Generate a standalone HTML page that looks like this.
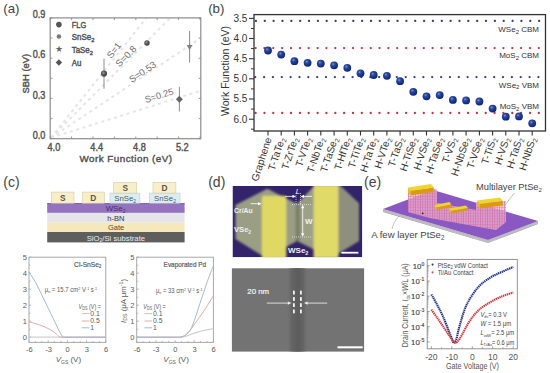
<!DOCTYPE html>
<html><head><meta charset="utf-8"><style>
html,body{margin:0;padding:0;background:#fff;width:550px;height:373px;overflow:hidden}
svg{display:block}
</style></head><body>
<svg width="550" height="373" viewBox="0 0 550 373">
<defs>
<radialGradient id="gball" cx="0.4" cy="0.38" r="0.65"><stop offset="0" stop-color="#9a9a9a"/><stop offset="0.5" stop-color="#555"/><stop offset="1" stop-color="#3c3c3c"/></radialGradient>
<radialGradient id="ball" cx="0.38" cy="0.35" r="0.7">
<stop offset="0" stop-color="#7d98dc"/><stop offset="0.3" stop-color="#2848a6"/><stop offset="1" stop-color="#0c206a"/>
</radialGradient>
<clipPath id="clipsem"><rect x="231.9" y="268.3" width="132.2" height="83.3"/></clipPath>
<clipPath id="clipd"><rect x="232.5" y="186" width="129.8" height="71.3"/></clipPath>
<filter id="bl1" x="-10%" y="-10%" width="120%" height="120%"><feGaussianBlur stdDeviation="0.8"/></filter>
<filter id="bl2" x="-50%" y="-10%" width="200%" height="120%"><feGaussianBlur stdDeviation="1.5"/></filter>
<pattern id="latt" width="2.4" height="2.8" patternUnits="userSpaceOnUse"><rect x="0" width="0.7" height="2.8" fill="#b868a8" opacity="0.75"/><rect y="0" width="2.4" height="0.8" fill="#ee6a90" opacity="0.6"/></pattern>
</defs>
<text x="3.3" y="13.3" font-family="Liberation Sans, sans-serif" font-size="13.3" fill="#444">(a)</text>
<line x1="51.0" y1="137.8" x2="146.4" y2="17.9" stroke="#e4e4e4" stroke-width="1.9" stroke-dasharray="3 3.6"/>
<line x1="51.0" y1="137.8" x2="170.3" y2="17.9" stroke="#e4e4e4" stroke-width="1.9" stroke-dasharray="3 3.6"/>
<line x1="51.0" y1="137.8" x2="200.8" y2="38.0" stroke="#e4e4e4" stroke-width="1.9" stroke-dasharray="3 3.6"/>
<line x1="51.0" y1="137.8" x2="200.8" y2="90.7" stroke="#e4e4e4" stroke-width="1.9" stroke-dasharray="3 3.6"/>
<rect x="50.2" y="17.9" width="150.6" height="120.8" fill="none" stroke="#8c8c8c" stroke-width="1.2"/>
<line x1="50.2" y1="138.7" x2="50.2" y2="136.5" stroke="#8c8c8c" stroke-width="0.9"/>
<line x1="50.2" y1="17.9" x2="50.2" y2="20.099999999999998" stroke="#8c8c8c" stroke-width="0.9"/>
<line x1="71.6" y1="138.7" x2="71.6" y2="136.5" stroke="#8c8c8c" stroke-width="0.9"/>
<line x1="71.6" y1="17.9" x2="71.6" y2="20.099999999999998" stroke="#8c8c8c" stroke-width="0.9"/>
<line x1="93.0" y1="138.7" x2="93.0" y2="136.5" stroke="#8c8c8c" stroke-width="0.9"/>
<line x1="93.0" y1="17.9" x2="93.0" y2="20.099999999999998" stroke="#8c8c8c" stroke-width="0.9"/>
<line x1="114.4" y1="138.7" x2="114.4" y2="136.5" stroke="#8c8c8c" stroke-width="0.9"/>
<line x1="114.4" y1="17.9" x2="114.4" y2="20.099999999999998" stroke="#8c8c8c" stroke-width="0.9"/>
<line x1="135.8" y1="138.7" x2="135.8" y2="136.5" stroke="#8c8c8c" stroke-width="0.9"/>
<line x1="135.8" y1="17.9" x2="135.8" y2="20.099999999999998" stroke="#8c8c8c" stroke-width="0.9"/>
<line x1="157.2" y1="138.7" x2="157.2" y2="136.5" stroke="#8c8c8c" stroke-width="0.9"/>
<line x1="157.2" y1="17.9" x2="157.2" y2="20.099999999999998" stroke="#8c8c8c" stroke-width="0.9"/>
<line x1="178.6" y1="138.7" x2="178.6" y2="136.5" stroke="#8c8c8c" stroke-width="0.9"/>
<line x1="178.6" y1="17.9" x2="178.6" y2="20.099999999999998" stroke="#8c8c8c" stroke-width="0.9"/>
<line x1="200.0" y1="138.7" x2="200.0" y2="136.5" stroke="#8c8c8c" stroke-width="0.9"/>
<line x1="200.0" y1="17.9" x2="200.0" y2="20.099999999999998" stroke="#8c8c8c" stroke-width="0.9"/>
<line x1="50.2" y1="138.7" x2="52.400000000000006" y2="138.7" stroke="#8c8c8c" stroke-width="0.9"/>
<line x1="200.8" y1="138.7" x2="198.60000000000002" y2="138.7" stroke="#8c8c8c" stroke-width="0.9"/>
<line x1="50.2" y1="118.6" x2="52.400000000000006" y2="118.6" stroke="#8c8c8c" stroke-width="0.9"/>
<line x1="200.8" y1="118.6" x2="198.60000000000002" y2="118.6" stroke="#8c8c8c" stroke-width="0.9"/>
<line x1="50.2" y1="98.4" x2="52.400000000000006" y2="98.4" stroke="#8c8c8c" stroke-width="0.9"/>
<line x1="200.8" y1="98.4" x2="198.60000000000002" y2="98.4" stroke="#8c8c8c" stroke-width="0.9"/>
<line x1="50.2" y1="78.3" x2="52.400000000000006" y2="78.3" stroke="#8c8c8c" stroke-width="0.9"/>
<line x1="200.8" y1="78.3" x2="198.60000000000002" y2="78.3" stroke="#8c8c8c" stroke-width="0.9"/>
<line x1="50.2" y1="58.2" x2="52.400000000000006" y2="58.2" stroke="#8c8c8c" stroke-width="0.9"/>
<line x1="200.8" y1="58.2" x2="198.60000000000002" y2="58.2" stroke="#8c8c8c" stroke-width="0.9"/>
<line x1="50.2" y1="38.0" x2="52.400000000000006" y2="38.0" stroke="#8c8c8c" stroke-width="0.9"/>
<line x1="200.8" y1="38.0" x2="198.60000000000002" y2="38.0" stroke="#8c8c8c" stroke-width="0.9"/>
<line x1="50.2" y1="17.9" x2="52.400000000000006" y2="17.9" stroke="#8c8c8c" stroke-width="0.9"/>
<line x1="200.8" y1="17.9" x2="198.60000000000002" y2="17.9" stroke="#8c8c8c" stroke-width="0.9"/>
<text x="45.3" y="138.9" font-family="Liberation Sans, sans-serif" font-size="10.4" fill="#505050" stroke="#505050" stroke-width="0.4" text-anchor="end" textLength="12.6" lengthAdjust="spacingAndGlyphs">0.0</text>
<text x="45.3" y="98.6" font-family="Liberation Sans, sans-serif" font-size="10.4" fill="#505050" stroke="#505050" stroke-width="0.4" text-anchor="end" textLength="12.6" lengthAdjust="spacingAndGlyphs">0.3</text>
<text x="45.3" y="58.4" font-family="Liberation Sans, sans-serif" font-size="10.4" fill="#505050" stroke="#505050" stroke-width="0.4" text-anchor="end" textLength="12.6" lengthAdjust="spacingAndGlyphs">0.6</text>
<text x="45.3" y="18.1" font-family="Liberation Sans, sans-serif" font-size="10.4" fill="#505050" stroke="#505050" stroke-width="0.4" text-anchor="end" textLength="12.6" lengthAdjust="spacingAndGlyphs">0.9</text>
<text x="53.9" y="150.8" font-family="Liberation Sans, sans-serif" font-size="10.2" fill="#505050" stroke="#505050" stroke-width="0.4" text-anchor="middle" textLength="12.8" lengthAdjust="spacingAndGlyphs">4.0</text>
<text x="96.7" y="150.8" font-family="Liberation Sans, sans-serif" font-size="10.2" fill="#505050" stroke="#505050" stroke-width="0.4" text-anchor="middle" textLength="12.8" lengthAdjust="spacingAndGlyphs">4.4</text>
<text x="139.5" y="150.8" font-family="Liberation Sans, sans-serif" font-size="10.2" fill="#505050" stroke="#505050" stroke-width="0.4" text-anchor="middle" textLength="12.8" lengthAdjust="spacingAndGlyphs">4.8</text>
<text x="182.3" y="150.8" font-family="Liberation Sans, sans-serif" font-size="10.2" fill="#505050" stroke="#505050" stroke-width="0.4" text-anchor="middle" textLength="12.8" lengthAdjust="spacingAndGlyphs">5.2</text>
<text x="79.5" y="161.8" font-family="Liberation Sans, sans-serif" font-size="9.8" fill="#505050" stroke="#505050" stroke-width="0.4" textLength="92.5" lengthAdjust="spacing">Work Function (eV)</text>
<text transform="translate(29.2,93.4) rotate(-90)" x="0" y="0" font-family="Liberation Sans, sans-serif" font-size="9.8" fill="#505050" stroke="#505050" stroke-width="0.4" textLength="39.5" lengthAdjust="spacingAndGlyphs">SBH (eV)</text>
<text transform="translate(114,50.3) rotate(-51.5)" x="0" y="3.3" font-family="Liberation Sans, sans-serif" font-size="9.3" fill="#707070" text-anchor="middle" textLength="17" lengthAdjust="spacingAndGlyphs">S=1</text>
<text transform="translate(125.8,56.2) rotate(-45)" x="0" y="3.3" font-family="Liberation Sans, sans-serif" font-size="9.3" fill="#707070" text-anchor="middle" textLength="25.5" lengthAdjust="spacingAndGlyphs">S=0.8</text>
<text transform="translate(142.5,71.8) rotate(-33.7)" x="0" y="3.3" font-family="Liberation Sans, sans-serif" font-size="9.3" fill="#707070" text-anchor="middle" textLength="30.5" lengthAdjust="spacingAndGlyphs">S=0.53</text>
<text transform="translate(159,95.5) rotate(-17.4)" x="0" y="3.3" font-family="Liberation Sans, sans-serif" font-size="9.3" fill="#707070" text-anchor="middle" textLength="29.5" lengthAdjust="spacingAndGlyphs">S=0.25</text>
<line x1="104" y1="58.6" x2="104" y2="88.7" stroke="#8c8c8c" stroke-width="1"/>
<circle cx="104" cy="73.6" r="3.1" fill="url(#gball)"/>
<circle cx="147" cy="43" r="2.7" fill="url(#gball)"/>
<line x1="189.6" y1="30.9" x2="189.6" y2="62.6" stroke="#8c8c8c" stroke-width="1"/>
<polygon points="186.6,45 192.6,45 189.6,50" fill="#808080"/>
<line x1="179.4" y1="86.8" x2="179.4" y2="111.5" stroke="#8c8c8c" stroke-width="1"/>
<polygon points="179.4,95.8 182.9,99.3 179.4,102.8 175.9,99.3" fill="#666"/>
<circle cx="58.9" cy="24.6" r="2.8" fill="#555"/>
<circle cx="58.9" cy="36.5" r="2.3" fill="#7a7a7a"/>
<text x="58.9" y="52.4" font-family="Liberation Sans, sans-serif" font-size="9" fill="#666" text-anchor="middle">&#9733;</text>
<polygon points="58.9,59.3 62.1,62.5 58.9,65.7 55.7,62.5" fill="#555"/>
<text x="71.8" y="28.1" font-family="Liberation Sans, sans-serif" font-size="8.4" fill="#505050" stroke="#505050" stroke-width="0.4" textLength="14.5" lengthAdjust="spacingAndGlyphs">FLG</text>
<text x="71.8" y="40.2" font-family="Liberation Sans, sans-serif" font-size="8.4" fill="#505050" stroke="#505050" stroke-width="0.4" textLength="22.5" lengthAdjust="spacingAndGlyphs">SnSe<tspan font-size="6" dy="1.6">2</tspan></text>
<text x="71.8" y="52.9" font-family="Liberation Sans, sans-serif" font-size="8.4" fill="#505050" stroke="#505050" stroke-width="0.4" textLength="21" lengthAdjust="spacingAndGlyphs">TaSe<tspan font-size="6" dy="1.6">2</tspan></text>
<text x="71.8" y="65.6" font-family="Liberation Sans, sans-serif" font-size="8.4" fill="#505050" stroke="#505050" stroke-width="0.4" textLength="9.6" lengthAdjust="spacingAndGlyphs">Au</text>
<text x="208.2" y="13.3" font-family="Liberation Sans, sans-serif" font-size="13.3" fill="#444">(b)</text>
<circle cx="255.9" cy="20.9" r="1.15" fill="#2c3c82"/>
<circle cx="264.8" cy="20.9" r="1.15" fill="#2c3c82"/>
<circle cx="273.6" cy="20.9" r="1.15" fill="#2c3c82"/>
<circle cx="282.5" cy="20.9" r="1.15" fill="#2c3c82"/>
<circle cx="291.3" cy="20.9" r="1.15" fill="#2c3c82"/>
<circle cx="300.2" cy="20.9" r="1.15" fill="#2c3c82"/>
<circle cx="309.0" cy="20.9" r="1.15" fill="#2c3c82"/>
<circle cx="317.9" cy="20.9" r="1.15" fill="#2c3c82"/>
<circle cx="326.7" cy="20.9" r="1.15" fill="#2c3c82"/>
<circle cx="335.6" cy="20.9" r="1.15" fill="#2c3c82"/>
<circle cx="344.4" cy="20.9" r="1.15" fill="#2c3c82"/>
<circle cx="353.3" cy="20.9" r="1.15" fill="#2c3c82"/>
<circle cx="362.1" cy="20.9" r="1.15" fill="#2c3c82"/>
<circle cx="371.0" cy="20.9" r="1.15" fill="#2c3c82"/>
<circle cx="379.8" cy="20.9" r="1.15" fill="#2c3c82"/>
<circle cx="388.7" cy="20.9" r="1.15" fill="#2c3c82"/>
<circle cx="397.5" cy="20.9" r="1.15" fill="#2c3c82"/>
<circle cx="406.4" cy="20.9" r="1.15" fill="#2c3c82"/>
<circle cx="415.2" cy="20.9" r="1.15" fill="#2c3c82"/>
<circle cx="424.1" cy="20.9" r="1.15" fill="#2c3c82"/>
<circle cx="432.9" cy="20.9" r="1.15" fill="#2c3c82"/>
<circle cx="441.8" cy="20.9" r="1.15" fill="#2c3c82"/>
<circle cx="450.6" cy="20.9" r="1.15" fill="#2c3c82"/>
<circle cx="459.5" cy="20.9" r="1.15" fill="#2c3c82"/>
<circle cx="468.3" cy="20.9" r="1.15" fill="#2c3c82"/>
<circle cx="477.2" cy="20.9" r="1.15" fill="#2c3c82"/>
<circle cx="486.0" cy="20.9" r="1.15" fill="#2c3c82"/>
<circle cx="494.9" cy="20.9" r="1.15" fill="#2c3c82"/>
<circle cx="503.7" cy="20.9" r="1.15" fill="#2c3c82"/>
<circle cx="512.6" cy="20.9" r="1.15" fill="#2c3c82"/>
<circle cx="521.4" cy="20.9" r="1.15" fill="#2c3c82"/>
<circle cx="530.3" cy="20.9" r="1.15" fill="#2c3c82"/>
<circle cx="539.1" cy="20.9" r="1.15" fill="#2c3c82"/>
<circle cx="255.6" cy="48.1" r="1.15" fill="#cc3040"/>
<circle cx="264.4" cy="48.1" r="1.15" fill="#cc3040"/>
<circle cx="273.3" cy="48.1" r="1.15" fill="#cc3040"/>
<circle cx="282.2" cy="48.1" r="1.15" fill="#cc3040"/>
<circle cx="291.0" cy="48.1" r="1.15" fill="#cc3040"/>
<circle cx="299.9" cy="48.1" r="1.15" fill="#cc3040"/>
<circle cx="308.7" cy="48.1" r="1.15" fill="#cc3040"/>
<circle cx="317.6" cy="48.1" r="1.15" fill="#cc3040"/>
<circle cx="326.4" cy="48.1" r="1.15" fill="#cc3040"/>
<circle cx="335.3" cy="48.1" r="1.15" fill="#cc3040"/>
<circle cx="344.1" cy="48.1" r="1.15" fill="#cc3040"/>
<circle cx="353.0" cy="48.1" r="1.15" fill="#cc3040"/>
<circle cx="361.8" cy="48.1" r="1.15" fill="#cc3040"/>
<circle cx="370.7" cy="48.1" r="1.15" fill="#cc3040"/>
<circle cx="379.5" cy="48.1" r="1.15" fill="#cc3040"/>
<circle cx="388.4" cy="48.1" r="1.15" fill="#cc3040"/>
<circle cx="397.2" cy="48.1" r="1.15" fill="#cc3040"/>
<circle cx="406.1" cy="48.1" r="1.15" fill="#cc3040"/>
<circle cx="414.9" cy="48.1" r="1.15" fill="#cc3040"/>
<circle cx="423.8" cy="48.1" r="1.15" fill="#cc3040"/>
<circle cx="432.6" cy="48.1" r="1.15" fill="#cc3040"/>
<circle cx="441.5" cy="48.1" r="1.15" fill="#cc3040"/>
<circle cx="450.3" cy="48.1" r="1.15" fill="#cc3040"/>
<circle cx="459.2" cy="48.1" r="1.15" fill="#cc3040"/>
<circle cx="468.0" cy="48.1" r="1.15" fill="#cc3040"/>
<circle cx="476.9" cy="48.1" r="1.15" fill="#cc3040"/>
<circle cx="485.7" cy="48.1" r="1.15" fill="#cc3040"/>
<circle cx="494.6" cy="48.1" r="1.15" fill="#cc3040"/>
<circle cx="503.4" cy="48.1" r="1.15" fill="#cc3040"/>
<circle cx="512.3" cy="48.1" r="1.15" fill="#cc3040"/>
<circle cx="521.1" cy="48.1" r="1.15" fill="#cc3040"/>
<circle cx="530.0" cy="48.1" r="1.15" fill="#cc3040"/>
<circle cx="538.8" cy="48.1" r="1.15" fill="#cc3040"/>
<circle cx="255.2" cy="77.1" r="1.15" fill="#2c3c82"/>
<circle cx="264.1" cy="77.1" r="1.15" fill="#2c3c82"/>
<circle cx="272.9" cy="77.1" r="1.15" fill="#2c3c82"/>
<circle cx="281.8" cy="77.1" r="1.15" fill="#2c3c82"/>
<circle cx="290.6" cy="77.1" r="1.15" fill="#2c3c82"/>
<circle cx="299.5" cy="77.1" r="1.15" fill="#2c3c82"/>
<circle cx="308.3" cy="77.1" r="1.15" fill="#2c3c82"/>
<circle cx="317.2" cy="77.1" r="1.15" fill="#2c3c82"/>
<circle cx="326.0" cy="77.1" r="1.15" fill="#2c3c82"/>
<circle cx="334.9" cy="77.1" r="1.15" fill="#2c3c82"/>
<circle cx="343.7" cy="77.1" r="1.15" fill="#2c3c82"/>
<circle cx="352.6" cy="77.1" r="1.15" fill="#2c3c82"/>
<circle cx="361.4" cy="77.1" r="1.15" fill="#2c3c82"/>
<circle cx="370.3" cy="77.1" r="1.15" fill="#2c3c82"/>
<circle cx="379.1" cy="77.1" r="1.15" fill="#2c3c82"/>
<circle cx="388.0" cy="77.1" r="1.15" fill="#2c3c82"/>
<circle cx="396.8" cy="77.1" r="1.15" fill="#2c3c82"/>
<circle cx="405.7" cy="77.1" r="1.15" fill="#2c3c82"/>
<circle cx="414.5" cy="77.1" r="1.15" fill="#2c3c82"/>
<circle cx="423.4" cy="77.1" r="1.15" fill="#2c3c82"/>
<circle cx="432.2" cy="77.1" r="1.15" fill="#2c3c82"/>
<circle cx="441.1" cy="77.1" r="1.15" fill="#2c3c82"/>
<circle cx="449.9" cy="77.1" r="1.15" fill="#2c3c82"/>
<circle cx="458.8" cy="77.1" r="1.15" fill="#2c3c82"/>
<circle cx="467.6" cy="77.1" r="1.15" fill="#2c3c82"/>
<circle cx="476.5" cy="77.1" r="1.15" fill="#2c3c82"/>
<circle cx="485.3" cy="77.1" r="1.15" fill="#2c3c82"/>
<circle cx="494.2" cy="77.1" r="1.15" fill="#2c3c82"/>
<circle cx="503.0" cy="77.1" r="1.15" fill="#2c3c82"/>
<circle cx="511.9" cy="77.1" r="1.15" fill="#2c3c82"/>
<circle cx="520.7" cy="77.1" r="1.15" fill="#2c3c82"/>
<circle cx="529.6" cy="77.1" r="1.15" fill="#2c3c82"/>
<circle cx="538.4" cy="77.1" r="1.15" fill="#2c3c82"/>
<circle cx="255.6" cy="113.0" r="1.15" fill="#cc3040"/>
<circle cx="264.4" cy="113.0" r="1.15" fill="#cc3040"/>
<circle cx="273.3" cy="113.0" r="1.15" fill="#cc3040"/>
<circle cx="282.2" cy="113.0" r="1.15" fill="#cc3040"/>
<circle cx="291.0" cy="113.0" r="1.15" fill="#cc3040"/>
<circle cx="299.9" cy="113.0" r="1.15" fill="#cc3040"/>
<circle cx="308.7" cy="113.0" r="1.15" fill="#cc3040"/>
<circle cx="317.6" cy="113.0" r="1.15" fill="#cc3040"/>
<circle cx="326.4" cy="113.0" r="1.15" fill="#cc3040"/>
<circle cx="335.3" cy="113.0" r="1.15" fill="#cc3040"/>
<circle cx="344.1" cy="113.0" r="1.15" fill="#cc3040"/>
<circle cx="353.0" cy="113.0" r="1.15" fill="#cc3040"/>
<circle cx="361.8" cy="113.0" r="1.15" fill="#cc3040"/>
<circle cx="370.7" cy="113.0" r="1.15" fill="#cc3040"/>
<circle cx="379.5" cy="113.0" r="1.15" fill="#cc3040"/>
<circle cx="388.4" cy="113.0" r="1.15" fill="#cc3040"/>
<circle cx="397.2" cy="113.0" r="1.15" fill="#cc3040"/>
<circle cx="406.1" cy="113.0" r="1.15" fill="#cc3040"/>
<circle cx="414.9" cy="113.0" r="1.15" fill="#cc3040"/>
<circle cx="423.8" cy="113.0" r="1.15" fill="#cc3040"/>
<circle cx="432.6" cy="113.0" r="1.15" fill="#cc3040"/>
<circle cx="441.5" cy="113.0" r="1.15" fill="#cc3040"/>
<circle cx="450.3" cy="113.0" r="1.15" fill="#cc3040"/>
<circle cx="459.2" cy="113.0" r="1.15" fill="#cc3040"/>
<circle cx="468.0" cy="113.0" r="1.15" fill="#cc3040"/>
<circle cx="476.9" cy="113.0" r="1.15" fill="#cc3040"/>
<circle cx="485.7" cy="113.0" r="1.15" fill="#cc3040"/>
<circle cx="494.6" cy="113.0" r="1.15" fill="#cc3040"/>
<circle cx="503.4" cy="113.0" r="1.15" fill="#cc3040"/>
<circle cx="512.3" cy="113.0" r="1.15" fill="#cc3040"/>
<circle cx="521.1" cy="113.0" r="1.15" fill="#cc3040"/>
<circle cx="530.0" cy="113.0" r="1.15" fill="#cc3040"/>
<circle cx="538.8" cy="113.0" r="1.15" fill="#cc3040"/>
<rect x="254.0" y="14.6" width="291.5" height="116.4" fill="none" stroke="#333" stroke-width="1.3"/>
<line x1="249.0" y1="18.4" x2="254.0" y2="18.4" stroke="#333" stroke-width="1.1"/>
<text x="247.3" y="21.7" font-family="Liberation Sans, sans-serif" font-size="10" fill="#333" text-anchor="end" textLength="13.9" lengthAdjust="spacingAndGlyphs">3.5</text>
<line x1="251.0" y1="28.5" x2="254.0" y2="28.5" stroke="#333" stroke-width="1"/>
<line x1="249.0" y1="38.5" x2="254.0" y2="38.5" stroke="#333" stroke-width="1.1"/>
<text x="247.3" y="41.8" font-family="Liberation Sans, sans-serif" font-size="10" fill="#333" text-anchor="end" textLength="13.9" lengthAdjust="spacingAndGlyphs">4.0</text>
<line x1="251.0" y1="48.6" x2="254.0" y2="48.6" stroke="#333" stroke-width="1"/>
<line x1="249.0" y1="58.7" x2="254.0" y2="58.7" stroke="#333" stroke-width="1.1"/>
<text x="247.3" y="62.0" font-family="Liberation Sans, sans-serif" font-size="10" fill="#333" text-anchor="end" textLength="13.9" lengthAdjust="spacingAndGlyphs">4.5</text>
<line x1="251.0" y1="68.8" x2="254.0" y2="68.8" stroke="#333" stroke-width="1"/>
<line x1="249.0" y1="78.8" x2="254.0" y2="78.8" stroke="#333" stroke-width="1.1"/>
<text x="247.3" y="82.1" font-family="Liberation Sans, sans-serif" font-size="10" fill="#333" text-anchor="end" textLength="13.9" lengthAdjust="spacingAndGlyphs">5.0</text>
<line x1="251.0" y1="88.9" x2="254.0" y2="88.9" stroke="#333" stroke-width="1"/>
<line x1="249.0" y1="99.0" x2="254.0" y2="99.0" stroke="#333" stroke-width="1.1"/>
<text x="247.3" y="102.3" font-family="Liberation Sans, sans-serif" font-size="10" fill="#333" text-anchor="end" textLength="13.9" lengthAdjust="spacingAndGlyphs">5.5</text>
<line x1="251.0" y1="109.1" x2="254.0" y2="109.1" stroke="#333" stroke-width="1"/>
<line x1="249.0" y1="119.2" x2="254.0" y2="119.2" stroke="#333" stroke-width="1.1"/>
<text x="247.3" y="122.5" font-family="Liberation Sans, sans-serif" font-size="10" fill="#333" text-anchor="end" textLength="13.9" lengthAdjust="spacingAndGlyphs">6.0</text>
<line x1="251.0" y1="129.2" x2="254.0" y2="129.2" stroke="#333" stroke-width="1"/>
<text transform="translate(228.5,71) rotate(-90)" x="0" y="0" font-family="Liberation Sans, sans-serif" font-size="10.3" fill="#333" text-anchor="middle" textLength="90" lengthAdjust="spacingAndGlyphs">Work Function (eV)</text>
<line x1="268.0" y1="131.0" x2="268.0" y2="135.5" stroke="#333" stroke-width="1.1"/>
<text transform="translate(271.8,138.8) rotate(-72)" x="0" y="0" font-family="Liberation Sans, sans-serif" font-size="10.2" fill="#333" text-anchor="end">Graphene</text>
<line x1="281.2" y1="131.0" x2="281.2" y2="135.5" stroke="#333" stroke-width="1.1"/>
<text transform="translate(285.0,138.8) rotate(-72)" x="0" y="0" font-family="Liberation Sans, sans-serif" font-size="10.2" fill="#333" text-anchor="end">T-TaTe<tspan font-size="6.5" dy="2">2</tspan></text>
<line x1="294.4" y1="131.0" x2="294.4" y2="135.5" stroke="#333" stroke-width="1.1"/>
<text transform="translate(298.2,138.8) rotate(-72)" x="0" y="0" font-family="Liberation Sans, sans-serif" font-size="10.2" fill="#333" text-anchor="end">T-ZrTe<tspan font-size="6.5" dy="2">2</tspan></text>
<line x1="307.6" y1="131.0" x2="307.6" y2="135.5" stroke="#333" stroke-width="1.1"/>
<text transform="translate(311.4,138.8) rotate(-72)" x="0" y="0" font-family="Liberation Sans, sans-serif" font-size="10.2" fill="#333" text-anchor="end">T-VTe<tspan font-size="6.5" dy="2">2</tspan></text>
<line x1="320.8" y1="131.0" x2="320.8" y2="135.5" stroke="#333" stroke-width="1.1"/>
<text transform="translate(324.6,138.8) rotate(-72)" x="0" y="0" font-family="Liberation Sans, sans-serif" font-size="10.2" fill="#333" text-anchor="end">T-NbTe<tspan font-size="6.5" dy="2">2</tspan></text>
<line x1="334.1" y1="131.0" x2="334.1" y2="135.5" stroke="#333" stroke-width="1.1"/>
<text transform="translate(337.9,138.8) rotate(-72)" x="0" y="0" font-family="Liberation Sans, sans-serif" font-size="10.2" fill="#333" text-anchor="end">T-TaSe<tspan font-size="6.5" dy="2">2</tspan></text>
<line x1="347.3" y1="131.0" x2="347.3" y2="135.5" stroke="#333" stroke-width="1.1"/>
<text transform="translate(351.1,138.8) rotate(-72)" x="0" y="0" font-family="Liberation Sans, sans-serif" font-size="10.2" fill="#333" text-anchor="end">T-HfTe<tspan font-size="6.5" dy="2">2</tspan></text>
<line x1="360.5" y1="131.0" x2="360.5" y2="135.5" stroke="#333" stroke-width="1.1"/>
<text transform="translate(364.3,138.8) rotate(-72)" x="0" y="0" font-family="Liberation Sans, sans-serif" font-size="10.2" fill="#333" text-anchor="end">T-TiTe<tspan font-size="6.5" dy="2">2</tspan></text>
<line x1="373.7" y1="131.0" x2="373.7" y2="135.5" stroke="#333" stroke-width="1.1"/>
<text transform="translate(377.5,138.8) rotate(-72)" x="0" y="0" font-family="Liberation Sans, sans-serif" font-size="10.2" fill="#333" text-anchor="end">H-TaTe<tspan font-size="6.5" dy="2">2</tspan></text>
<line x1="386.9" y1="131.0" x2="386.9" y2="135.5" stroke="#333" stroke-width="1.1"/>
<text transform="translate(390.7,138.8) rotate(-72)" x="0" y="0" font-family="Liberation Sans, sans-serif" font-size="10.2" fill="#333" text-anchor="end">H-VTe<tspan font-size="6.5" dy="2">2</tspan></text>
<line x1="400.1" y1="131.0" x2="400.1" y2="135.5" stroke="#333" stroke-width="1.1"/>
<text transform="translate(403.9,138.8) rotate(-72)" x="0" y="0" font-family="Liberation Sans, sans-serif" font-size="10.2" fill="#333" text-anchor="end">T-TaS<tspan font-size="6.5" dy="2">2</tspan></text>
<line x1="413.3" y1="131.0" x2="413.3" y2="135.5" stroke="#333" stroke-width="1.1"/>
<text transform="translate(417.1,138.8) rotate(-72)" x="0" y="0" font-family="Liberation Sans, sans-serif" font-size="10.2" fill="#333" text-anchor="end">H-TiSe<tspan font-size="6.5" dy="2">2</tspan></text>
<line x1="426.5" y1="131.0" x2="426.5" y2="135.5" stroke="#333" stroke-width="1.1"/>
<text transform="translate(430.3,138.8) rotate(-72)" x="0" y="0" font-family="Liberation Sans, sans-serif" font-size="10.2" fill="#333" text-anchor="end">H-VSe<tspan font-size="6.5" dy="2">2</tspan></text>
<line x1="439.7" y1="131.0" x2="439.7" y2="135.5" stroke="#333" stroke-width="1.1"/>
<text transform="translate(443.5,138.8) rotate(-72)" x="0" y="0" font-family="Liberation Sans, sans-serif" font-size="10.2" fill="#333" text-anchor="end">H-TaSe<tspan font-size="6.5" dy="2">2</tspan></text>
<line x1="452.9" y1="131.0" x2="452.9" y2="135.5" stroke="#333" stroke-width="1.1"/>
<text transform="translate(456.7,138.8) rotate(-72)" x="0" y="0" font-family="Liberation Sans, sans-serif" font-size="10.2" fill="#333" text-anchor="end">T-VS<tspan font-size="6.5" dy="2">2</tspan></text>
<line x1="466.1" y1="131.0" x2="466.1" y2="135.5" stroke="#333" stroke-width="1.1"/>
<text transform="translate(469.9,138.8) rotate(-72)" x="0" y="0" font-family="Liberation Sans, sans-serif" font-size="10.2" fill="#333" text-anchor="end">H-NbSe<tspan font-size="6.5" dy="2">2</tspan></text>
<line x1="479.4" y1="131.0" x2="479.4" y2="135.5" stroke="#333" stroke-width="1.1"/>
<text transform="translate(483.2,138.8) rotate(-72)" x="0" y="0" font-family="Liberation Sans, sans-serif" font-size="10.2" fill="#333" text-anchor="end">T-VSe<tspan font-size="6.5" dy="2">2</tspan></text>
<line x1="492.6" y1="131.0" x2="492.6" y2="135.5" stroke="#333" stroke-width="1.1"/>
<text transform="translate(496.4,138.8) rotate(-72)" x="0" y="0" font-family="Liberation Sans, sans-serif" font-size="10.2" fill="#333" text-anchor="end">T-TiS<tspan font-size="6.5" dy="2">2</tspan></text>
<line x1="505.8" y1="131.0" x2="505.8" y2="135.5" stroke="#333" stroke-width="1.1"/>
<text transform="translate(509.6,138.8) rotate(-72)" x="0" y="0" font-family="Liberation Sans, sans-serif" font-size="10.2" fill="#333" text-anchor="end">H-VS<tspan font-size="6.5" dy="2">2</tspan></text>
<line x1="519.0" y1="131.0" x2="519.0" y2="135.5" stroke="#333" stroke-width="1.1"/>
<text transform="translate(522.8,138.8) rotate(-72)" x="0" y="0" font-family="Liberation Sans, sans-serif" font-size="10.2" fill="#333" text-anchor="end">H-TaS<tspan font-size="6.5" dy="2">2</tspan></text>
<line x1="532.2" y1="131.0" x2="532.2" y2="135.5" stroke="#333" stroke-width="1.1"/>
<text transform="translate(536.0,138.8) rotate(-72)" x="0" y="0" font-family="Liberation Sans, sans-serif" font-size="10.2" fill="#333" text-anchor="end">H-NbS<tspan font-size="6.5" dy="2">2</tspan></text>
<text x="539" y="32" font-family="Liberation Sans, sans-serif" font-size="8" fill="#333" text-anchor="end">WSe<tspan font-size="6" dy="1.5">2</tspan><tspan dy="-1.5"> CBM</tspan></text>
<text x="539" y="58.4" font-family="Liberation Sans, sans-serif" font-size="8" fill="#333" text-anchor="end">MoS<tspan font-size="6" dy="1.5">2</tspan><tspan dy="-1.5"> CBM</tspan></text>
<text x="539" y="87.5" font-family="Liberation Sans, sans-serif" font-size="8" fill="#333" text-anchor="end">WSe<tspan font-size="6" dy="1.5">2</tspan><tspan dy="-1.5"> VBM</tspan></text>
<text x="539" y="109" font-family="Liberation Sans, sans-serif" font-size="8" fill="#333" text-anchor="end">MoS<tspan font-size="6" dy="1.5">2</tspan><tspan dy="-1.5"> VBM</tspan></text>
<circle cx="268.0" cy="50.5" r="3.9" fill="url(#ball)"/>
<circle cx="281.2" cy="54.6" r="3.9" fill="url(#ball)"/>
<circle cx="294.4" cy="61.2" r="3.9" fill="url(#ball)"/>
<circle cx="307.6" cy="62.8" r="3.9" fill="url(#ball)"/>
<circle cx="320.8" cy="63.6" r="3.9" fill="url(#ball)"/>
<circle cx="334.1" cy="65.3" r="3.9" fill="url(#ball)"/>
<circle cx="347.3" cy="67.8" r="3.9" fill="url(#ball)"/>
<circle cx="360.5" cy="73.3" r="3.9" fill="url(#ball)"/>
<circle cx="373.7" cy="75.0" r="3.9" fill="url(#ball)"/>
<circle cx="386.9" cy="75.8" r="3.9" fill="url(#ball)"/>
<circle cx="400.1" cy="81.2" r="3.9" fill="url(#ball)"/>
<circle cx="413.3" cy="91.8" r="3.9" fill="url(#ball)"/>
<circle cx="426.5" cy="96.3" r="3.9" fill="url(#ball)"/>
<circle cx="439.7" cy="95.1" r="3.9" fill="url(#ball)"/>
<circle cx="452.9" cy="99.9" r="3.9" fill="url(#ball)"/>
<circle cx="466.1" cy="100.4" r="3.9" fill="url(#ball)"/>
<circle cx="479.4" cy="101.5" r="3.9" fill="url(#ball)"/>
<circle cx="492.6" cy="108.6" r="3.9" fill="url(#ball)"/>
<circle cx="505.8" cy="116.7" r="3.9" fill="url(#ball)"/>
<circle cx="519.0" cy="116.4" r="3.9" fill="url(#ball)"/>
<circle cx="532.2" cy="123.3" r="3.9" fill="url(#ball)"/>
<text x="3.3" y="186.7" font-family="Liberation Sans, sans-serif" font-size="14" fill="#444">(c)</text>
<rect x="47.2" y="203.2" width="137.4" height="9.7" fill="#9572be"/>
<rect x="47.2" y="203.2" width="137.4" height="0.8" fill="#7d5aa8"/>
<rect x="47.2" y="212.9" width="137.4" height="9.8" fill="#e6e5ea"/>
<rect x="47.2" y="222.7" width="137.4" height="9.3" fill="#f6e8bd"/>
<rect x="47.2" y="232.0" width="137.4" height="10.4" fill="#5e5e5e"/>
<rect x="51.5" y="192.1" width="22.5" height="11.1" fill="#f8eec8" stroke="#d4cca8" stroke-width="0.6"/>
<rect x="82.2" y="192.1" width="22.3" height="11.1" fill="#f8eec8" stroke="#d4cca8" stroke-width="0.6"/>
<rect x="110" y="193.1" width="29.9" height="10.1" fill="#dcedf1" stroke="#b8ccd2" stroke-width="0.6"/>
<rect x="113.7" y="182.4" width="23.0" height="10.7" fill="#f8eec8" stroke="#d4cca8" stroke-width="0.6"/>
<text x="125.2" y="201.3" font-family="Liberation Sans, sans-serif" font-size="7.8" fill="#4e5a62" text-anchor="middle">SnSe<tspan font-size="5" dy="1.5">2</tspan></text>
<text x="125.2" y="190.8" font-family="Liberation Sans, sans-serif" font-size="8.3" font-weight="bold" fill="#555" text-anchor="middle">S</text>
<rect x="149.4" y="193.1" width="30.6" height="10.1" fill="#dcedf1" stroke="#b8ccd2" stroke-width="0.6"/>
<rect x="153" y="182.4" width="22.9" height="10.7" fill="#f8eec8" stroke="#d4cca8" stroke-width="0.6"/>
<text x="165.0" y="201.3" font-family="Liberation Sans, sans-serif" font-size="7.8" fill="#4e5a62" text-anchor="middle">SnSe<tspan font-size="5" dy="1.5">2</tspan></text>
<text x="164.4" y="190.8" font-family="Liberation Sans, sans-serif" font-size="8.3" font-weight="bold" fill="#555" text-anchor="middle">D</text>
<text x="62.7" y="200.8" font-family="Liberation Sans, sans-serif" font-size="8.3" font-weight="bold" fill="#555" text-anchor="middle">S</text>
<text x="93.3" y="200.8" font-family="Liberation Sans, sans-serif" font-size="8.3" font-weight="bold" fill="#555" text-anchor="middle">D</text>
<text x="115.6" y="211" font-family="Liberation Sans, sans-serif" font-size="7.9" fill="#4a2a72" text-anchor="middle">WSe<tspan font-size="5" dy="1.5">2</tspan></text>
<text x="115.8" y="221.1" font-family="Liberation Sans, sans-serif" font-size="7.5" fill="#383838" text-anchor="middle">h-BN</text>
<text x="116.1" y="230.2" font-family="Liberation Sans, sans-serif" font-size="7.5" fill="#54482a" text-anchor="middle">Gate</text>
<text x="115.9" y="240.5" font-family="Liberation Sans, sans-serif" font-size="7.7" fill="#ececec" text-anchor="middle">SiO<tspan font-size="5" dy="1.5">2</tspan><tspan dy="-1.5">/Si substrate</tspan></text>
<rect x="29.0" y="257.2" width="76.8" height="85.2" fill="none" stroke="#a8a8a8" stroke-width="1"/>
<line x1="29.0" y1="337.2" x2="31.2" y2="337.2" stroke="#a8a8a8" stroke-width="0.9"/>
<text x="26.8" y="339.9" font-family="Liberation Sans, sans-serif" font-size="7.5" fill="#5a5a5a" text-anchor="end">0</text>
<line x1="29.0" y1="329.2" x2="30.5" y2="329.2" stroke="#a8a8a8" stroke-width="0.7"/>
<line x1="29.0" y1="321.2" x2="31.2" y2="321.2" stroke="#a8a8a8" stroke-width="0.9"/>
<text x="26.8" y="323.9" font-family="Liberation Sans, sans-serif" font-size="7.5" fill="#5a5a5a" text-anchor="end">1</text>
<line x1="29.0" y1="313.2" x2="30.5" y2="313.2" stroke="#a8a8a8" stroke-width="0.7"/>
<line x1="29.0" y1="305.2" x2="31.2" y2="305.2" stroke="#a8a8a8" stroke-width="0.9"/>
<text x="26.8" y="307.9" font-family="Liberation Sans, sans-serif" font-size="7.5" fill="#5a5a5a" text-anchor="end">2</text>
<line x1="29.0" y1="297.2" x2="30.5" y2="297.2" stroke="#a8a8a8" stroke-width="0.7"/>
<line x1="29.0" y1="289.2" x2="31.2" y2="289.2" stroke="#a8a8a8" stroke-width="0.9"/>
<text x="26.8" y="291.9" font-family="Liberation Sans, sans-serif" font-size="7.5" fill="#5a5a5a" text-anchor="end">3</text>
<line x1="29.0" y1="281.2" x2="30.5" y2="281.2" stroke="#a8a8a8" stroke-width="0.7"/>
<line x1="29.0" y1="273.2" x2="31.2" y2="273.2" stroke="#a8a8a8" stroke-width="0.9"/>
<text x="26.8" y="275.9" font-family="Liberation Sans, sans-serif" font-size="7.5" fill="#5a5a5a" text-anchor="end">4</text>
<line x1="29.0" y1="265.2" x2="30.5" y2="265.2" stroke="#a8a8a8" stroke-width="0.7"/>
<line x1="29.0" y1="257.2" x2="31.2" y2="257.2" stroke="#a8a8a8" stroke-width="0.9"/>
<text x="26.8" y="259.9" font-family="Liberation Sans, sans-serif" font-size="7.5" fill="#5a5a5a" text-anchor="end">5</text>
<line x1="29.0" y1="342.4" x2="29.0" y2="340.2" stroke="#a8a8a8" stroke-width="0.8"/>
<line x1="35.4" y1="342.4" x2="35.4" y2="341.0" stroke="#a8a8a8" stroke-width="0.8"/>
<line x1="41.8" y1="342.4" x2="41.8" y2="341.0" stroke="#a8a8a8" stroke-width="0.8"/>
<line x1="48.2" y1="342.4" x2="48.2" y2="340.2" stroke="#a8a8a8" stroke-width="0.8"/>
<line x1="54.6" y1="342.4" x2="54.6" y2="341.0" stroke="#a8a8a8" stroke-width="0.8"/>
<line x1="61.0" y1="342.4" x2="61.0" y2="341.0" stroke="#a8a8a8" stroke-width="0.8"/>
<line x1="67.4" y1="342.4" x2="67.4" y2="340.2" stroke="#a8a8a8" stroke-width="0.8"/>
<line x1="73.8" y1="342.4" x2="73.8" y2="341.0" stroke="#a8a8a8" stroke-width="0.8"/>
<line x1="80.2" y1="342.4" x2="80.2" y2="341.0" stroke="#a8a8a8" stroke-width="0.8"/>
<line x1="86.6" y1="342.4" x2="86.6" y2="340.2" stroke="#a8a8a8" stroke-width="0.8"/>
<line x1="93.0" y1="342.4" x2="93.0" y2="341.0" stroke="#a8a8a8" stroke-width="0.8"/>
<line x1="99.4" y1="342.4" x2="99.4" y2="341.0" stroke="#a8a8a8" stroke-width="0.8"/>
<line x1="105.8" y1="342.4" x2="105.8" y2="340.2" stroke="#a8a8a8" stroke-width="0.8"/>
<text x="29.3" y="352" font-family="Liberation Sans, sans-serif" font-size="7.5" fill="#5a5a5a" text-anchor="middle">-6</text>
<text x="48.5" y="352" font-family="Liberation Sans, sans-serif" font-size="7.5" fill="#5a5a5a" text-anchor="middle">-3</text>
<text x="67.7" y="352" font-family="Liberation Sans, sans-serif" font-size="7.5" fill="#5a5a5a" text-anchor="middle">0</text>
<text x="86.9" y="352" font-family="Liberation Sans, sans-serif" font-size="7.5" fill="#5a5a5a" text-anchor="middle">3</text>
<text x="106.1" y="352" font-family="Liberation Sans, sans-serif" font-size="7.5" fill="#5a5a5a" text-anchor="middle">6</text>
<text x="68.4" y="362" font-family="Liberation Sans, sans-serif" font-size="8" fill="#5a5a5a" text-anchor="middle"><tspan font-style="italic">V</tspan><tspan font-size="5" dy="1.5">GS</tspan><tspan dy="-1.5"> (V)</tspan></text>
<rect x="136.7" y="257.2" width="76.7" height="85.2" fill="none" stroke="#a8a8a8" stroke-width="1"/>
<line x1="136.7" y1="337.2" x2="138.89999999999998" y2="337.2" stroke="#a8a8a8" stroke-width="0.9"/>
<text x="134.5" y="339.9" font-family="Liberation Sans, sans-serif" font-size="7.5" fill="#5a5a5a" text-anchor="end">0</text>
<line x1="136.7" y1="329.2" x2="138.2" y2="329.2" stroke="#a8a8a8" stroke-width="0.7"/>
<line x1="136.7" y1="321.2" x2="138.89999999999998" y2="321.2" stroke="#a8a8a8" stroke-width="0.9"/>
<text x="134.5" y="323.9" font-family="Liberation Sans, sans-serif" font-size="7.5" fill="#5a5a5a" text-anchor="end">1</text>
<line x1="136.7" y1="313.2" x2="138.2" y2="313.2" stroke="#a8a8a8" stroke-width="0.7"/>
<line x1="136.7" y1="305.2" x2="138.89999999999998" y2="305.2" stroke="#a8a8a8" stroke-width="0.9"/>
<text x="134.5" y="307.9" font-family="Liberation Sans, sans-serif" font-size="7.5" fill="#5a5a5a" text-anchor="end">2</text>
<line x1="136.7" y1="297.2" x2="138.2" y2="297.2" stroke="#a8a8a8" stroke-width="0.7"/>
<line x1="136.7" y1="289.2" x2="138.89999999999998" y2="289.2" stroke="#a8a8a8" stroke-width="0.9"/>
<text x="134.5" y="291.9" font-family="Liberation Sans, sans-serif" font-size="7.5" fill="#5a5a5a" text-anchor="end">3</text>
<line x1="136.7" y1="281.2" x2="138.2" y2="281.2" stroke="#a8a8a8" stroke-width="0.7"/>
<line x1="136.7" y1="273.2" x2="138.89999999999998" y2="273.2" stroke="#a8a8a8" stroke-width="0.9"/>
<text x="134.5" y="275.9" font-family="Liberation Sans, sans-serif" font-size="7.5" fill="#5a5a5a" text-anchor="end">4</text>
<line x1="136.7" y1="265.2" x2="138.2" y2="265.2" stroke="#a8a8a8" stroke-width="0.7"/>
<line x1="136.7" y1="257.2" x2="138.89999999999998" y2="257.2" stroke="#a8a8a8" stroke-width="0.9"/>
<text x="134.5" y="259.9" font-family="Liberation Sans, sans-serif" font-size="7.5" fill="#5a5a5a" text-anchor="end">5</text>
<line x1="136.7" y1="342.4" x2="136.7" y2="340.2" stroke="#a8a8a8" stroke-width="0.8"/>
<line x1="143.1" y1="342.4" x2="143.1" y2="341.0" stroke="#a8a8a8" stroke-width="0.8"/>
<line x1="149.5" y1="342.4" x2="149.5" y2="341.0" stroke="#a8a8a8" stroke-width="0.8"/>
<line x1="155.9" y1="342.4" x2="155.9" y2="340.2" stroke="#a8a8a8" stroke-width="0.8"/>
<line x1="162.3" y1="342.4" x2="162.3" y2="341.0" stroke="#a8a8a8" stroke-width="0.8"/>
<line x1="168.7" y1="342.4" x2="168.7" y2="341.0" stroke="#a8a8a8" stroke-width="0.8"/>
<line x1="175.1" y1="342.4" x2="175.1" y2="340.2" stroke="#a8a8a8" stroke-width="0.8"/>
<line x1="181.4" y1="342.4" x2="181.4" y2="341.0" stroke="#a8a8a8" stroke-width="0.8"/>
<line x1="187.8" y1="342.4" x2="187.8" y2="341.0" stroke="#a8a8a8" stroke-width="0.8"/>
<line x1="194.2" y1="342.4" x2="194.2" y2="340.2" stroke="#a8a8a8" stroke-width="0.8"/>
<line x1="200.6" y1="342.4" x2="200.6" y2="341.0" stroke="#a8a8a8" stroke-width="0.8"/>
<line x1="207.0" y1="342.4" x2="207.0" y2="341.0" stroke="#a8a8a8" stroke-width="0.8"/>
<line x1="213.4" y1="342.4" x2="213.4" y2="340.2" stroke="#a8a8a8" stroke-width="0.8"/>
<text x="137.0" y="352" font-family="Liberation Sans, sans-serif" font-size="7.5" fill="#5a5a5a" text-anchor="middle">-6</text>
<text x="156.2" y="352" font-family="Liberation Sans, sans-serif" font-size="7.5" fill="#5a5a5a" text-anchor="middle">-3</text>
<text x="175.4" y="352" font-family="Liberation Sans, sans-serif" font-size="7.5" fill="#5a5a5a" text-anchor="middle">0</text>
<text x="194.5" y="352" font-family="Liberation Sans, sans-serif" font-size="7.5" fill="#5a5a5a" text-anchor="middle">3</text>
<text x="213.7" y="352" font-family="Liberation Sans, sans-serif" font-size="7.5" fill="#5a5a5a" text-anchor="middle">6</text>
<text x="176.1" y="362" font-family="Liberation Sans, sans-serif" font-size="8" fill="#5a5a5a" text-anchor="middle"><tspan font-style="italic">V</tspan><tspan font-size="5" dy="1.5">GS</tspan><tspan dy="-1.5"> (V)</tspan></text>
<polyline points="29.0,337.1 105.8,337.1" fill="none" stroke="#c4c4c4" stroke-width="1"/>
<path d="M29.0,321.7 C34,323 38,324.5 41.8,325.7 C46,327.5 50,329.5 52.5,331 C55.5,333 57.5,335 59.2,336.7 L61,337.3 L105.8,337.3" fill="none" stroke="#e0aaa6" stroke-width="1"/>
<path d="M29.0,272 C31,275 35,281 37,285 L59.2,331 C60.5,333.5 61.5,335.5 63,337.2 L105.8,337.2" fill="none" stroke="#a6bad0" stroke-width="1"/>
<path d="M136.7,337.2 L180,337.2 C183,337 186,336.5 188,335.5 C196,332 205,330 213.3,328.7" fill="none" stroke="#c4c4c4" stroke-width="1"/>
<path d="M136.7,337.2 L176,337.2 C176.8,337.2 179.4,337.4 181,337 C182.6,336.6 183.9,336.2 185.5,335 C187.1,333.8 188.7,332.1 190.4,329.9 C192.2,327.7 194.0,324.8 196,322 C198.0,319.2 200.5,315.9 202.5,313 C204.5,310.1 206.2,307.3 208,304.5 C209.8,301.7 212.4,297.4 213.3,296" fill="none" stroke="#e0aaa6" stroke-width="1"/>
<path d="M136.7,337.2 L176,337.2 C176.8,337.2 179.4,337.4 181,337 C182.6,336.6 183.9,336.2 185.5,335 C187.1,333.8 188.8,332.6 190.4,329.9 C192.0,327.1 193.4,322.9 195,318.5 C196.6,314.1 197.9,309.4 200,303.3 C202.1,297.2 205.1,287.8 207.3,281.6 C209.5,275.4 212.3,268.5 213.3,265.9" fill="none" stroke="#a6bad0" stroke-width="1"/>
<text x="78.6" y="308.8" font-family="Liberation Sans, sans-serif" font-size="6.6" fill="#5a5a5a" textLength="22.5" lengthAdjust="spacingAndGlyphs"><tspan font-style="italic">V</tspan><tspan font-size="4.5" dy="1.5">DS</tspan><tspan dy="-1.5"> (V) =</tspan></text>
<line x1="81.8" y1="313.6" x2="89.3" y2="313.6" stroke="#c4c4c4" stroke-width="1"/>
<text x="90.3" y="316.0" font-family="Liberation Sans, sans-serif" font-size="6.8" fill="#5a5a5a">0.1</text>
<line x1="81.8" y1="321" x2="89.3" y2="321" stroke="#e0aaa6" stroke-width="1"/>
<text x="90.3" y="323.4" font-family="Liberation Sans, sans-serif" font-size="6.8" fill="#5a5a5a">0.5</text>
<line x1="81.8" y1="327.8" x2="89.3" y2="327.8" stroke="#a6bad0" stroke-width="1"/>
<text x="90.3" y="330.2" font-family="Liberation Sans, sans-serif" font-size="6.8" fill="#5a5a5a">1</text>
<text x="143.3" y="308.8" font-family="Liberation Sans, sans-serif" font-size="6.6" fill="#5a5a5a" textLength="22.5" lengthAdjust="spacingAndGlyphs"><tspan font-style="italic">V</tspan><tspan font-size="4.5" dy="1.5">DS</tspan><tspan dy="-1.5"> (V) =</tspan></text>
<line x1="144.5" y1="313.6" x2="152.0" y2="313.6" stroke="#c4c4c4" stroke-width="1"/>
<text x="153.0" y="316.0" font-family="Liberation Sans, sans-serif" font-size="6.8" fill="#5a5a5a">0.1</text>
<line x1="144.5" y1="321" x2="152.0" y2="321" stroke="#e0aaa6" stroke-width="1"/>
<text x="153.0" y="323.4" font-family="Liberation Sans, sans-serif" font-size="6.8" fill="#5a5a5a">0.5</text>
<line x1="144.5" y1="327.8" x2="152.0" y2="327.8" stroke="#a6bad0" stroke-width="1"/>
<text x="153.0" y="330.2" font-family="Liberation Sans, sans-serif" font-size="6.8" fill="#5a5a5a">1</text>
<text x="74.1" y="266.9" font-family="Liberation Sans, sans-serif" font-size="7.8" fill="#5a5a5a" stroke="#5a5a5a" stroke-width="0.2" textLength="27.2" lengthAdjust="spacingAndGlyphs">Cl-SnSe<tspan font-size="4.8" dy="1.5">2</tspan></text>
<text x="44.7" y="291.5" font-family="Liberation Sans, sans-serif" font-size="6.4" fill="#5a5a5a" textLength="52.5" lengthAdjust="spacingAndGlyphs">μ<tspan font-size="4" dy="1">n</tspan><tspan dy="-1"> = 15.7 cm</tspan><tspan font-size="4" dy="-2">2</tspan><tspan dy="2"> V</tspan><tspan font-size="4" dy="-2">-1</tspan><tspan dy="2"> s</tspan><tspan font-size="4" dy="-2">-1</tspan></text>
<text x="163.6" y="266.8" font-family="Liberation Sans, sans-serif" font-size="7.7" fill="#5a5a5a" stroke="#5a5a5a" stroke-width="0.2" textLength="42.6" lengthAdjust="spacingAndGlyphs">Evaporated Pd</text>
<text x="156" y="292.9" font-family="Liberation Sans, sans-serif" font-size="6.4" fill="#5a5a5a" textLength="46.5" lengthAdjust="spacingAndGlyphs">μ<tspan font-size="4" dy="1">e</tspan><tspan dy="-1"> = 33 cm</tspan><tspan font-size="4" dy="-2">2</tspan><tspan dy="2"> V</tspan><tspan font-size="4" dy="-2">-1</tspan><tspan dy="2"> s</tspan><tspan font-size="4" dy="-2">-1</tspan></text>
<text transform="translate(125.8,301) rotate(-90)" x="0" y="0" font-family="Liberation Sans, sans-serif" font-size="7.3" fill="#5a5a5a" text-anchor="middle" textLength="44" lengthAdjust="spacingAndGlyphs"><tspan font-style="italic">I</tspan><tspan font-size="5" dy="1.5">DS</tspan><tspan dy="-1.5"> (μA μm</tspan><tspan font-size="5" dy="-3">-1</tspan><tspan dy="3">)</tspan></text>
<text x="208.2" y="186.7" font-family="Liberation Sans, sans-serif" font-size="14" fill="#444">(d)</text>
<g clip-path="url(#clipd)">
<rect x="232.5" y="186" width="129.8" height="71.3" fill="#32236a"/>
<g filter="url(#bl1)">
<polygon points="235.5,205 267.4,188.7 297,204 297,241 266,258 235.5,239" fill="#9a9e84"/>
<polygon points="297,204 315.5,184.5 339,184.5 359,203.5 359,241 331,258 297,241" fill="#989c84"/>
<polygon points="338,184.5 339,184.5 359,203.5 359,241 338,252.5" fill="#8a8c7c" opacity="0.7"/>
<rect x="295.5" y="204" width="4.5" height="37" fill="#7c8068"/>
<rect x="300" y="204" width="13.5" height="37" fill="#9fa488" opacity="0.5"/>
<rect x="261.8" y="195.8" width="24.5" height="63" rx="2" fill="#dfd864"/>
<rect x="313.6" y="185" width="24.8" height="73" fill="#e0da68"/>
</g>
</g>
<text x="234" y="212.6" font-family="Liberation Sans, sans-serif" font-size="7.3" font-weight="bold" fill="#f0f0f0" textLength="18.7" lengthAdjust="spacingAndGlyphs">Cr/Au</text>
<text x="234" y="232.3" font-family="Liberation Sans, sans-serif" font-size="7.6" font-weight="bold" fill="#f0f0f0">VSe<tspan font-size="5" dy="1.5">2</tspan></text>
<text x="288" y="253" font-family="Liberation Sans, sans-serif" font-size="8" font-weight="bold" fill="#f0f0f0">WSe<tspan font-size="5.5" dy="1.5">2</tspan></text>
<line x1="250.5" y1="203.7" x2="259" y2="203.7" stroke="#ffffff" stroke-width="0.8"/><polygon points="261.5,203.7 258,202 258,205.4" fill="#ffffff"/>
<text x="297.8" y="193.5" font-family="Liberation Sans, sans-serif" font-size="7.5" font-style="italic" fill="#ffffff" text-anchor="middle">L</text>
<line x1="285" y1="196.4" x2="293.5" y2="196.4" stroke="#ffffff" stroke-width="0.8"/><polygon points="296,196.4 292.5,194.8 292.5,198" fill="#ffffff"/>
<line x1="312" y1="196.4" x2="303" y2="196.4" stroke="#ffffff" stroke-width="0.8"/><polygon points="300.5,196.4 304,194.8 304,198" fill="#ffffff"/>
<line x1="296" y1="193" x2="296" y2="205" stroke="#ffffff" stroke-width="0.6" stroke-dasharray="1 1"/><line x1="300.5" y1="193" x2="300.5" y2="205" stroke="#ffffff" stroke-width="0.6" stroke-dasharray="1 1"/>
<line x1="292" y1="204.6" x2="311" y2="204.6" stroke="#ffffff" stroke-width="0.6" stroke-dasharray="1 1"/><line x1="292" y1="237" x2="311" y2="237" stroke="#ffffff" stroke-width="0.6" stroke-dasharray="1 1"/>
<line x1="302.7" y1="207" x2="302.7" y2="234.5" stroke="#ffffff" stroke-width="0.8"/><polygon points="302.7,204.8 301.1,208.3 304.3,208.3" fill="#ffffff"/><polygon points="302.7,236.8 301.1,233.3 304.3,233.3" fill="#ffffff"/>
<text x="308.8" y="224.3" font-family="Liberation Sans, sans-serif" font-size="8" font-weight="bold" fill="#f2f2f2" text-anchor="middle">W</text>
<rect x="341.4" y="251.8" width="17" height="1.8" fill="#ffffff"/>
<rect x="231.9" y="268.3" width="132.2" height="83.3" fill="#737373"/>
<g clip-path="url(#clipsem)">
<rect x="290" y="260" width="15" height="100" fill="#636363" filter="url(#bl2)"/>
<rect x="295" y="260" width="5.5" height="100" fill="#5d5d5d" filter="url(#bl2)"/>
</g>
<text x="247.3" y="294.3" font-family="Liberation Sans, sans-serif" font-size="7.8" fill="#f4f4f4" stroke="#f4f4f4" stroke-width="0.2">20 nm</text>
<line x1="266.8" y1="303.1" x2="289" y2="303.1" stroke="#e8e8e8" stroke-width="0.9"/><polygon points="291.5,303.1 287.8,301.5 287.8,304.7" fill="#eee"/>
<line x1="327.2" y1="303.1" x2="306.5" y2="303.1" stroke="#e8e8e8" stroke-width="0.9"/><polygon points="304,303.1 307.7,301.5 307.7,304.7" fill="#eee"/>
<rect x="293.0" y="290.7" width="1.8" height="3.8" fill="#f4f4f4"/>
<rect x="293.0" y="297.1" width="1.8" height="3.8" fill="#f4f4f4"/>
<rect x="293.0" y="303.2" width="1.8" height="3.8" fill="#f4f4f4"/>
<rect x="293.0" y="309.5" width="1.8" height="3.8" fill="#f4f4f4"/>
<rect x="300.0" y="290.7" width="1.8" height="3.8" fill="#f4f4f4"/>
<rect x="300.0" y="297.1" width="1.8" height="3.8" fill="#f4f4f4"/>
<rect x="300.0" y="303.2" width="1.8" height="3.8" fill="#f4f4f4"/>
<rect x="300.0" y="309.5" width="1.8" height="3.8" fill="#f4f4f4"/>
<rect x="337.5" y="346.3" width="25.2" height="2" fill="#fff"/>
<text x="364" y="186.7" font-family="Liberation Sans, sans-serif" font-size="14" fill="#444">(e)</text>
<text x="476" y="190" font-family="Liberation Sans, sans-serif" font-size="9.3" fill="#444">Multilayer PtSe<tspan font-size="6" dy="2">2</tspan></text>
<text x="371.3" y="238.3" font-family="Liberation Sans, sans-serif" font-size="9.8" fill="#444" textLength="73" lengthAdjust="spacingAndGlyphs">A few layer PtSe<tspan font-size="6.3" dy="2">2</tspan></text>
<line x1="514.4" y1="193" x2="505" y2="205" stroke="#999" stroke-width="0.6"/>
<path d="M392,229 C394,221 398,216 403,213" fill="none" stroke="#999" stroke-width="0.6"/>
<polygon points="383,209 488,240 538,221 538,223.2 488,242.4 383,211.2" fill="#bcbcbc"/>
<polygon points="383,211.2 488,242.4 538,223.2 538,223.9 488,243.1 383,211.9" fill="#999"/>
<polygon points="383,209 433,190 538,221 488,240" fill="#8a58c2"/>
<polygon points="408,190 437,189 437,203 476,210 476,202 506,201 506,222 496,230 430,218 408,212" fill="#f6bcd8" opacity="0.72"/>
<polygon points="408,190 437,189 437,203 476,210 476,202 506,201 506,222 496,230 430,218 408,212" fill="url(#latt)"/>
<polygon points="408,187.5 431,184.0 433.8,187.5 410.8,191.0" fill="#eed62c"/>
<polygon points="410.8,191.0 433.8,187.5 433.8,192.0 410.8,195.5" fill="#dc9a14"/>
<polygon points="408,187.5 410.8,191.0 410.8,195.5 408,192.0" fill="#e6bc20"/>
<polygon points="477,200.5 500,197.5 502.8,201.0 479.8,204.0" fill="#eed62c"/>
<polygon points="479.8,204.0 502.8,201.0 502.8,205.5 479.8,208.5" fill="#dc9a14"/>
<polygon points="477,200.5 479.8,204.0 479.8,208.5 477,205.0" fill="#e6bc20"/>
<polygon points="434.5,205 449.5,202 451.5,204.5 436.5,207.5" fill="#eed62c"/>
<polygon points="436.5,207.5 451.5,204.5 451.5,207.0 436.5,210.0" fill="#dc9a14"/>
<polygon points="434.5,205 436.5,207.5 436.5,210.0 434.5,207.5" fill="#e6bc20"/>
<polygon points="449,208.5 466,205.5 468.0,208.0 451.0,211.0" fill="#eed62c"/>
<polygon points="451.0,211.0 468.0,208.0 468.0,210.5 451.0,213.5" fill="#dc9a14"/>
<polygon points="449,208.5 451.0,211.0 451.0,213.5 449,211.0" fill="#e6bc20"/>
<circle cx="422.7" cy="213.3" r="0.9" fill="#222"/>
<rect x="427.2" y="259.4" width="90.1" height="89.4" fill="none" stroke="#888" stroke-width="0.9"/>
<line x1="427.2" y1="265.7" x2="429.7" y2="265.7" stroke="#888" stroke-width="0.8"/>
<line x1="427.2" y1="276.4" x2="428.59999999999997" y2="276.4" stroke="#888" stroke-width="0.6"/>
<line x1="427.2" y1="273.7" x2="428.59999999999997" y2="273.7" stroke="#888" stroke-width="0.6"/>
<line x1="427.2" y1="271.8" x2="428.59999999999997" y2="271.8" stroke="#888" stroke-width="0.6"/>
<line x1="427.2" y1="270.3" x2="428.59999999999997" y2="270.3" stroke="#888" stroke-width="0.6"/>
<line x1="427.2" y1="269.1" x2="428.59999999999997" y2="269.1" stroke="#888" stroke-width="0.6"/>
<line x1="427.2" y1="268.1" x2="428.59999999999997" y2="268.1" stroke="#888" stroke-width="0.6"/>
<line x1="427.2" y1="267.2" x2="428.59999999999997" y2="267.2" stroke="#888" stroke-width="0.6"/>
<line x1="427.2" y1="266.4" x2="428.59999999999997" y2="266.4" stroke="#888" stroke-width="0.6"/>
<text x="424.2" y="268.7" font-family="Liberation Sans, sans-serif" font-size="7.8" fill="#444" stroke="#444" stroke-width="0.15" text-anchor="end">10<tspan font-size="5" dy="-3">0</tspan></text>
<line x1="427.2" y1="281.0" x2="429.7" y2="281.0" stroke="#888" stroke-width="0.8"/>
<line x1="427.2" y1="291.6" x2="428.59999999999997" y2="291.6" stroke="#888" stroke-width="0.6"/>
<line x1="427.2" y1="288.9" x2="428.59999999999997" y2="288.9" stroke="#888" stroke-width="0.6"/>
<line x1="427.2" y1="287.0" x2="428.59999999999997" y2="287.0" stroke="#888" stroke-width="0.6"/>
<line x1="427.2" y1="285.6" x2="428.59999999999997" y2="285.6" stroke="#888" stroke-width="0.6"/>
<line x1="427.2" y1="284.3" x2="428.59999999999997" y2="284.3" stroke="#888" stroke-width="0.6"/>
<line x1="427.2" y1="283.3" x2="428.59999999999997" y2="283.3" stroke="#888" stroke-width="0.6"/>
<line x1="427.2" y1="282.4" x2="428.59999999999997" y2="282.4" stroke="#888" stroke-width="0.6"/>
<line x1="427.2" y1="281.7" x2="428.59999999999997" y2="281.7" stroke="#888" stroke-width="0.6"/>
<text x="424.2" y="284.0" font-family="Liberation Sans, sans-serif" font-size="7.8" fill="#444" stroke="#444" stroke-width="0.15" text-anchor="end">10<tspan font-size="5" dy="-3">-1</tspan></text>
<line x1="427.2" y1="296.2" x2="429.7" y2="296.2" stroke="#888" stroke-width="0.8"/>
<line x1="427.2" y1="306.9" x2="428.59999999999997" y2="306.9" stroke="#888" stroke-width="0.6"/>
<line x1="427.2" y1="304.2" x2="428.59999999999997" y2="304.2" stroke="#888" stroke-width="0.6"/>
<line x1="427.2" y1="302.3" x2="428.59999999999997" y2="302.3" stroke="#888" stroke-width="0.6"/>
<line x1="427.2" y1="300.8" x2="428.59999999999997" y2="300.8" stroke="#888" stroke-width="0.6"/>
<line x1="427.2" y1="299.6" x2="428.59999999999997" y2="299.6" stroke="#888" stroke-width="0.6"/>
<line x1="427.2" y1="298.6" x2="428.59999999999997" y2="298.6" stroke="#888" stroke-width="0.6"/>
<line x1="427.2" y1="297.7" x2="428.59999999999997" y2="297.7" stroke="#888" stroke-width="0.6"/>
<line x1="427.2" y1="296.9" x2="428.59999999999997" y2="296.9" stroke="#888" stroke-width="0.6"/>
<text x="424.2" y="299.2" font-family="Liberation Sans, sans-serif" font-size="7.8" fill="#444" stroke="#444" stroke-width="0.15" text-anchor="end">10<tspan font-size="5" dy="-3">-2</tspan></text>
<line x1="427.2" y1="311.5" x2="429.7" y2="311.5" stroke="#888" stroke-width="0.8"/>
<line x1="427.2" y1="322.1" x2="428.59999999999997" y2="322.1" stroke="#888" stroke-width="0.6"/>
<line x1="427.2" y1="319.5" x2="428.59999999999997" y2="319.5" stroke="#888" stroke-width="0.6"/>
<line x1="427.2" y1="317.6" x2="428.59999999999997" y2="317.6" stroke="#888" stroke-width="0.6"/>
<line x1="427.2" y1="316.1" x2="428.59999999999997" y2="316.1" stroke="#888" stroke-width="0.6"/>
<line x1="427.2" y1="314.9" x2="428.59999999999997" y2="314.9" stroke="#888" stroke-width="0.6"/>
<line x1="427.2" y1="313.8" x2="428.59999999999997" y2="313.8" stroke="#888" stroke-width="0.6"/>
<line x1="427.2" y1="313.0" x2="428.59999999999997" y2="313.0" stroke="#888" stroke-width="0.6"/>
<line x1="427.2" y1="312.2" x2="428.59999999999997" y2="312.2" stroke="#888" stroke-width="0.6"/>
<text x="424.2" y="314.5" font-family="Liberation Sans, sans-serif" font-size="7.8" fill="#444" stroke="#444" stroke-width="0.15" text-anchor="end">10<tspan font-size="5" dy="-3">-3</tspan></text>
<line x1="427.2" y1="326.7" x2="429.7" y2="326.7" stroke="#888" stroke-width="0.8"/>
<line x1="427.2" y1="337.4" x2="428.59999999999997" y2="337.4" stroke="#888" stroke-width="0.6"/>
<line x1="427.2" y1="334.7" x2="428.59999999999997" y2="334.7" stroke="#888" stroke-width="0.6"/>
<line x1="427.2" y1="332.8" x2="428.59999999999997" y2="332.8" stroke="#888" stroke-width="0.6"/>
<line x1="427.2" y1="331.3" x2="428.59999999999997" y2="331.3" stroke="#888" stroke-width="0.6"/>
<line x1="427.2" y1="330.1" x2="428.59999999999997" y2="330.1" stroke="#888" stroke-width="0.6"/>
<line x1="427.2" y1="329.1" x2="428.59999999999997" y2="329.1" stroke="#888" stroke-width="0.6"/>
<line x1="427.2" y1="328.2" x2="428.59999999999997" y2="328.2" stroke="#888" stroke-width="0.6"/>
<line x1="427.2" y1="327.4" x2="428.59999999999997" y2="327.4" stroke="#888" stroke-width="0.6"/>
<text x="424.2" y="329.7" font-family="Liberation Sans, sans-serif" font-size="7.8" fill="#444" stroke="#444" stroke-width="0.15" text-anchor="end">10<tspan font-size="5" dy="-3">-4</tspan></text>
<line x1="427.2" y1="342.0" x2="429.7" y2="342.0" stroke="#888" stroke-width="0.8"/>
<text x="424.2" y="345.0" font-family="Liberation Sans, sans-serif" font-size="7.8" fill="#444" stroke="#444" stroke-width="0.15" text-anchor="end">10<tspan font-size="5" dy="-3">-5</tspan></text>
<line x1="431.4" y1="348.8" x2="431.4" y2="346.3" stroke="#888" stroke-width="0.8"/>
<line x1="441.6" y1="348.8" x2="441.6" y2="347.3" stroke="#888" stroke-width="0.8"/>
<line x1="451.8" y1="348.8" x2="451.8" y2="346.3" stroke="#888" stroke-width="0.8"/>
<line x1="462.1" y1="348.8" x2="462.1" y2="347.3" stroke="#888" stroke-width="0.8"/>
<line x1="472.3" y1="348.8" x2="472.3" y2="346.3" stroke="#888" stroke-width="0.8"/>
<line x1="482.5" y1="348.8" x2="482.5" y2="347.3" stroke="#888" stroke-width="0.8"/>
<line x1="492.7" y1="348.8" x2="492.7" y2="346.3" stroke="#888" stroke-width="0.8"/>
<line x1="502.9" y1="348.8" x2="502.9" y2="347.3" stroke="#888" stroke-width="0.8"/>
<line x1="513.2" y1="348.8" x2="513.2" y2="346.3" stroke="#888" stroke-width="0.8"/>
<text x="431.4" y="359.5" font-family="Liberation Sans, sans-serif" font-size="8.5" fill="#555" text-anchor="middle">-20</text>
<text x="451.8" y="359.5" font-family="Liberation Sans, sans-serif" font-size="8.5" fill="#555" text-anchor="middle">-10</text>
<text x="472.3" y="359.5" font-family="Liberation Sans, sans-serif" font-size="8.5" fill="#555" text-anchor="middle">0</text>
<text x="492.8" y="359.5" font-family="Liberation Sans, sans-serif" font-size="8.5" fill="#555" text-anchor="middle">10</text>
<text x="513.2" y="359.5" font-family="Liberation Sans, sans-serif" font-size="8.5" fill="#555" text-anchor="middle">20</text>
<text x="472.5" y="369" font-family="Liberation Sans, sans-serif" font-size="8.5" fill="#555" text-anchor="middle" textLength="53" lengthAdjust="spacingAndGlyphs">Gate Voltage (V)</text>
<text transform="translate(408,305.3) rotate(-90)" x="0" y="0" font-family="Liberation Sans, sans-serif" font-size="8.2" fill="#555" text-anchor="middle" textLength="84" lengthAdjust="spacingAndGlyphs">Drain Current, <tspan font-style="italic">I</tspan><tspan font-size="5" dy="1.5">ds</tspan><tspan dy="-1.5">×</tspan><tspan font-style="italic">W</tspan>/<tspan font-style="italic">L</tspan> (μA)</text>
<path d="M431.4,294.4 C432.3,296.1 435.1,300.9 437,304.5 C438.9,308.1 440.7,311.3 442.8,316 C444.9,320.7 447.6,328.0 449.4,332.5 C451.2,337.0 452.8,341.1 453.5,342.8" fill="none" stroke="#1f2f86" stroke-width="2.1" stroke-dasharray="1.4 0.6"/>
<path d="M453.5,342.8 C453.9,342.3 455.2,342.5 456.2,339.6 C457.2,336.7 457.9,331.4 459.7,325.6 C461.4,319.8 463.6,311.0 466.7,304.6 C469.8,298.2 474.4,291.6 478.3,287.1 C482.2,282.6 486.1,280.3 490,277.8 C493.9,275.3 497.7,273.8 501.6,272 C505.5,270.2 511.3,267.8 513.3,266.9" fill="none" stroke="#1f2f86" stroke-width="2.1" stroke-dasharray="1.4 0.6"/>
<path d="M431.4,309.7 C432.3,311.0 435.1,314.8 437,317.5 C438.9,320.2 440.7,322.9 442.8,326 C444.9,329.1 447.5,333.0 449.4,335.8 C451.3,338.6 453.5,341.8 454.3,343" fill="none" stroke="#d8373a" stroke-width="2.1" stroke-dasharray="1.4 0.6"/>
<path d="M454.3,343 C454.8,342.8 456.0,343.2 457.3,341.9 C458.6,340.5 460.1,338.2 462,334.9 C463.9,331.6 466.3,326.2 469,322.1 C471.7,318.0 474.8,313.7 478.3,310.4 C481.8,307.1 486.1,304.6 490,302.3 C493.9,300.0 497.7,298.1 501.6,296.5 C505.5,294.9 511.3,293.2 513.3,292.5" fill="none" stroke="#d8373a" stroke-width="2.1" stroke-dasharray="1.4 0.6"/>
<circle cx="432.6" cy="264.6" r="1.1" fill="#2a4a70"/><circle cx="432.6" cy="272.3" r="1.1" fill="#d05060"/>
<text x="437.7" y="267.7" font-family="Liberation Sans, sans-serif" font-size="6.6" fill="#444" textLength="50.3" lengthAdjust="spacingAndGlyphs">PtSe<tspan font-size="4.5" dy="1.5">2</tspan><tspan dy="-1.5"> vdW Contact</tspan></text>
<text x="437.7" y="275.4" font-family="Liberation Sans, sans-serif" font-size="6.6" fill="#444" textLength="35.7" lengthAdjust="spacingAndGlyphs">Ti/Au Contact</text>
<text x="480.4" y="316.5" font-family="Liberation Sans, sans-serif" font-size="6.7" fill="#444" textLength="26.6" lengthAdjust="spacingAndGlyphs"><tspan font-style="italic">V</tspan><tspan font-size="4.3" dy="1.5">ds</tspan><tspan dy="-1.5">= 0.3 V</tspan></text>
<text x="480.4" y="325.5" font-family="Liberation Sans, sans-serif" font-size="6.7" fill="#444" textLength="30.8" lengthAdjust="spacingAndGlyphs"><tspan font-style="italic">W</tspan> = 1.5 μm</text>
<text x="480.4" y="335.2" font-family="Liberation Sans, sans-serif" font-size="6.7" fill="#444" textLength="33.8" lengthAdjust="spacingAndGlyphs"><tspan font-style="italic">L</tspan><tspan font-size="4.3" dy="1.5">vdW</tspan><tspan dy="-1.5">= 2.5 μm</tspan></text>
<text x="480.4" y="344.8" font-family="Liberation Sans, sans-serif" font-size="6.7" fill="#444" textLength="33.8" lengthAdjust="spacingAndGlyphs"><tspan font-style="italic">L</tspan><tspan font-size="4.3" dy="1.5">Ti/Au</tspan><tspan dy="-1.5">= 0.6 μm</tspan></text>
</svg></body></html>
